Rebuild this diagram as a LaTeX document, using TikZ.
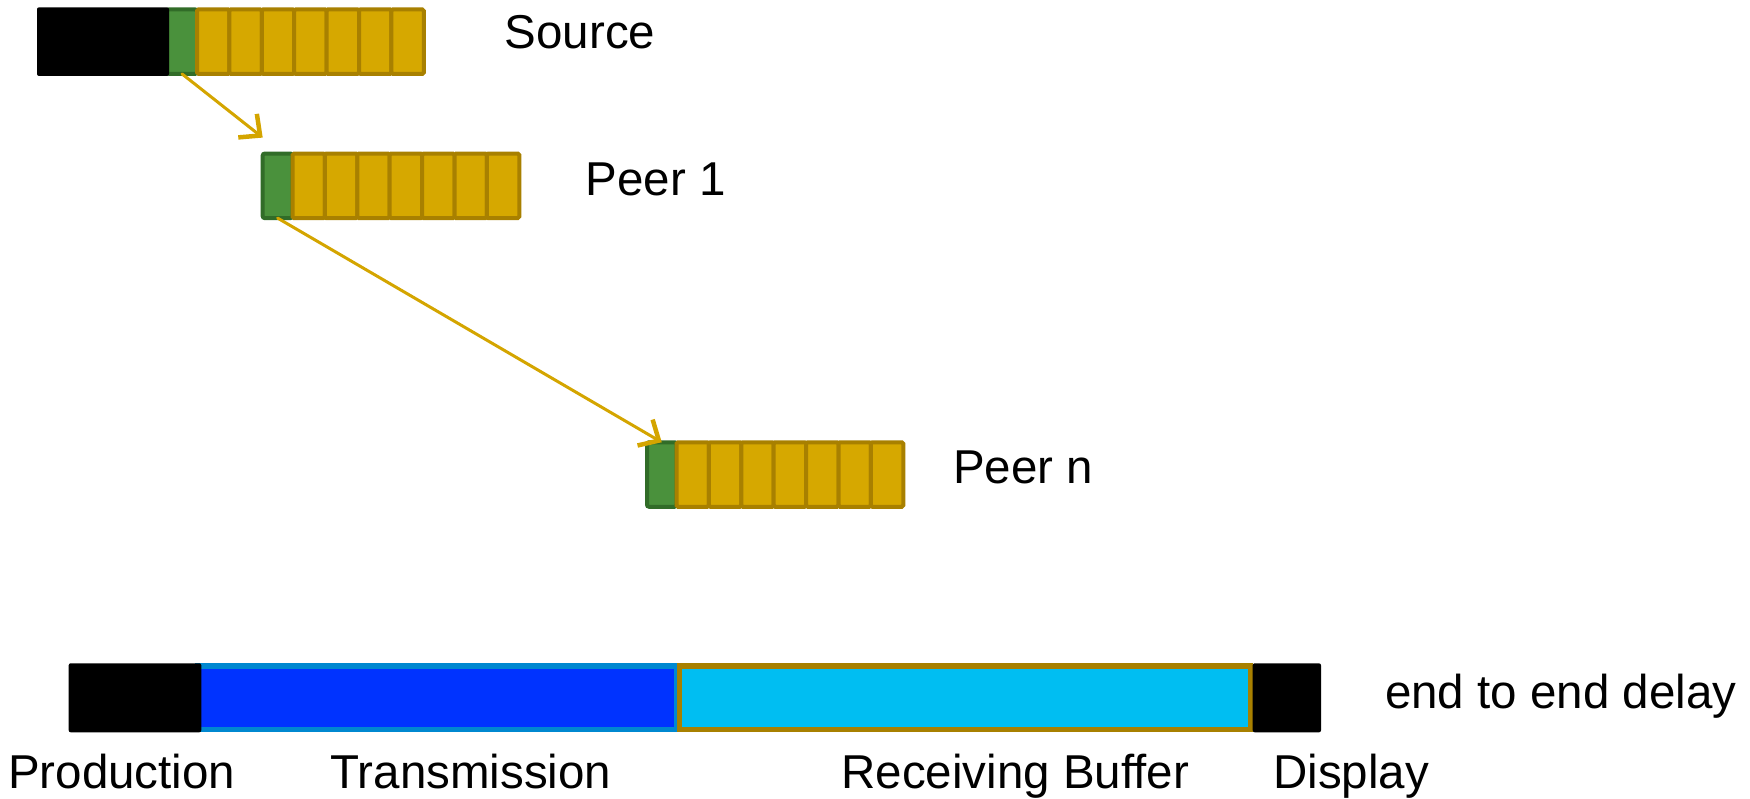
\documentclass[tikz,border=0pt]{standalone}
\usepackage{fontspec}
\setmainfont{Liberation Sans}
\usetikzlibrary{arrows.meta,calc}
\definecolor{gfill}{HTML}{4A913C}
\definecolor{gline}{HTML}{316C28}
\definecolor{yfill}{HTML}{D6A800}
\definecolor{yline}{HTML}{A88000}
\definecolor{bfill}{HTML}{0033FF}
\definecolor{bline}{HTML}{0088D0}
\definecolor{cfill}{HTML}{00BEF2}
\definecolor{arr}{HTML}{D4A500}
\begin{document}
\begin{tikzpicture}[x=1pt,y=-1pt,
  box/.style={inner sep=0pt, outer sep=0pt, rounded corners=2pt},
  blk/.style={box, fill=black},
  grn/.style={box, fill=gfill, draw=gline, line width=4pt},
  cell/.style={box, fill=yfill, draw=yline, line width=4pt, rounded corners=1.5pt,
    minimum width=32.4pt, minimum height=64.5pt},
  lbl/.style={font=\fontsize{47.5}{56}\selectfont, inner sep=0pt, anchor=base west},
  flow/.style={draw=arr, line width=3pt, line cap=round,
    -{Straight Barb[length=16pt,width=30pt,line width=4.5pt]}}]
\useasboundingbox (0,0) rectangle (1750,799);

% Source row
\node[grn, minimum width=30pt, minimum height=64.5pt] (sg) at (182,41.65) {};
\node[blk, minimum width=132pt, minimum height=68.7pt] (sb) at (103,41.65) {};
\foreach \k in {0,...,6}
  \node[cell] (s\k) at ({197+(\k+0.5)*32.4},41.65) {};
\node[lbl] (src) at (504.5,48.3) {Source};

% Peer 1 row
\node[grn, minimum width=29.8pt, minimum height=64.5pt] (p1g) at (277.6,185.85) {};
\foreach \k in {0,...,6}
  \node[cell] (a\k) at ({292.5+(\k+0.5)*32.4},185.85) {};
\node[lbl] (p1) at (585.6,195.7) {Peer 1};

% Peer n row
\node[grn, minimum width=29.5pt, minimum height=64.5pt] (png) at (661.75,474.5) {};
\foreach \k in {0,...,6}
  \node[cell] (n\k) at ({676.5+(\k+0.5)*32.4},474.5) {};
\node[lbl] (pn) at (953,483.3) {Peer n};

% arrows
\coordinate (p1in) at ($(p1g.north west)+(0,-16)$);
\draw[flow] (sg.south) -- (p1in);
\draw[flow] (p1g.south) -- (png.north);

% bottom bar
\node[box, rounded corners=0pt, fill=bfill, draw=bline, line width=5.5pt,
  minimum width=479pt, minimum height=63.5pt] (tr) at (437.5,697.8) {};
\node[box, rounded corners=0pt, fill=cfill, draw=yline, line width=5.5pt,
  minimum width=571pt, minimum height=63.5pt] (rb) at (965.2,697.8) {};
\node[blk, minimum width=132.6pt, minimum height=69pt] (pr) at (135,697.8) {};
\node[blk, minimum width=68.3pt, minimum height=69pt] (dp) at (1286.85,697.8) {};

\node[lbl] (e2e) at (1384.8,708) {end to end delay};
\node[lbl] (lpr) at (8,788.3) {Production};
\node[lbl] (ltr) at (330.5,788.3) {Transmission};
\node[lbl] (lrb) at (841.2,788.3) {Receiving Buffer};
\node[lbl] (ldp) at (1273,788.3) {Display};
\end{tikzpicture}
\end{document}
